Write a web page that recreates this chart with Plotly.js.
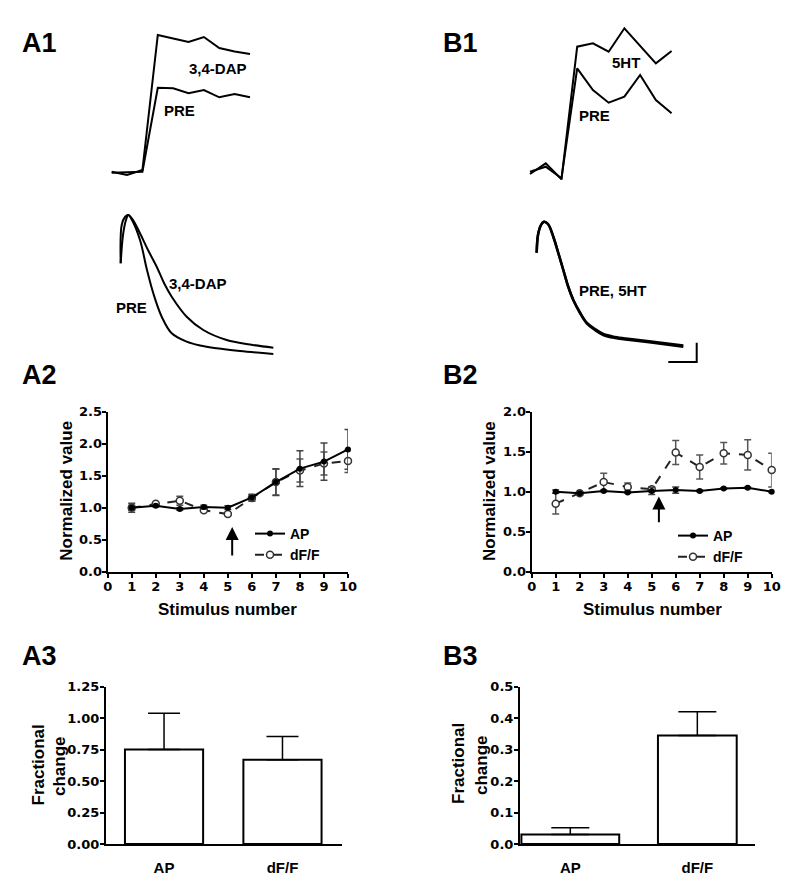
<!DOCTYPE html>
<html><head><meta charset="utf-8">
<script src="https://cdn.plot.ly/plotly-3.0.1.min.js"></script>
<style>html,body{margin:0;padding:0;background:#fff}#chart{width:789px;height:881px}</style>
</head><body><div id="chart"></div>
<script>
// ---------- A1 top: fluorescence transients (frame index, normalized dF) ----------
const frames = [0,1,2,3,4,5,6,7,8,9];
const a1TopDAP = [0.003,-0.03,0.02,1.37,1.335,1.30,1.35,1.24,1.205,1.18];
const a1TopPRE = [-0.007,-0.005,0.003,0.843,0.837,0.787,0.82,0.747,0.78,0.747];
// ---------- B1 top ----------
const b1Top5HT = [-0.02,0.087,-0.073,1.253,1.287,1.203,1.437,1.26,1.087,1.21];
const b1TopPRE = [0.003,0.053,-0.063,1.037,0.82,0.693,0.753,0.97,0.72,0.587];
// ---------- A1 bottom: action potentials ----------
const a1BotPREt = [0.07,0.3,0.6,0.83,1.2,2.0,2.7,3.33,4.17,5.17,6.67,8.0,9.67,12.0,15.33];
const a1BotPRE  = [0.917,1.20,1.35,1.40,1.35,1.15,0.85,0.617,0.383,0.217,0.133,0.095,0.067,0.04,0.01];
const a1BotDAPt = [0.07,0.17,0.5,0.83,1.3,2.0,2.8,3.67,4.4,5.17,6.67,8.33,10.67,13.0,15.33];
const a1BotDAP  = [0.917,1.30,1.38,1.40,1.35,1.217,1.05,0.883,0.72,0.583,0.383,0.25,0.15,0.105,0.073];
// ---------- B1 bottom ----------
const b1BotT   = [0.07,0.2,0.5,0.8,1.2,1.73,2.2,2.73,3.2,3.73,4.4,5.07,5.9,6.73,7.9,9.4,11.9,14.73];
const b1BotPRE = [1.023,1.2,1.3,1.333,1.31,1.183,1.03,0.85,0.69,0.55,0.42,0.317,0.25,0.2,0.17,0.15,0.12,0.083];
const b1Bot5HT = [1.023,1.2,1.3,1.333,1.31,1.183,1.03,0.85,0.69,0.55,0.425,0.325,0.26,0.21,0.18,0.16,0.13,0.095];
const scaleBarT   = [13.23,16.07,16.07];
const scaleBarAmp = [-0.07,-0.07,0.123];
// ---------- A2 / B2 ----------
const stim = [1,2,3,4,5,6,7,8,9,10];
const stimTicks = [0,1,2,3,4,5,6,7,8,9,10];
const apA     = [1.00,1.03,0.98,1.01,1.00,1.16,1.40,1.61,1.72,1.91];
const apAErr  = [0.07,0.02,0.02,0.03,0.03,0.05,0.21,0.28,0.29,0.31];
const dffA    = [1.00,1.06,1.11,0.96,0.90,1.15,1.40,1.58,1.69,1.73];
const dffAErr = [0.04,0.02,0.07,0.02,0.02,0.05,0.20,0.18,0.18,0.18];
const apB     = [1.00,0.98,1.01,0.99,1.01,1.02,1.01,1.04,1.05,1.00];
const apBErr  = [0.02,0.02,0.01,0.01,0.045,0.04,0.01,0.01,0.01,0.01];
const dffB    = [0.85,0.98,1.12,1.06,1.03,1.49,1.31,1.48,1.46,1.27];
const dffBErr = [0.13,0.02,0.11,0.05,0.03,0.15,0.15,0.135,0.19,0.21];
// ---------- A3 / B3 ----------
const barCats = ['AP','dF/F'];
const fracA    = [0.75,0.67];
const fracAErr = [0.29,0.185];
const fracB    = [0.03,0.345];
const fracBErr = [0.022,0.075];

const W = 789, H = 881;
const FX = x => x / W, FY = y => 1 - y / H;
const NUM = 'DejaVu Sans';
const TXT = 'Liberation Sans';
const fnt = (s, fam) => ({family: fam || TXT, size: s, weight: 'bold', color: '#000'});

const lineTr = (x, y, xa, ya, w, shape) => ({
  type: 'scatter', mode: 'lines', x: x, y: y, xaxis: xa, yaxis: ya,
  line: {color: '#000', width: w, shape: shape || 'linear', smoothing: 1},
  showlegend: false, hoverinfo: 'skip'
});

const apStyle = (x, y, e, xa, ya, lg) => ({
  type: 'scatter', mode: 'lines+markers', name: 'AP', x: x, y: y, xaxis: xa, yaxis: ya,
  legend: lg, cliponaxis: false, legendrank: 1,
  line: {color: '#000', width: 2},
  marker: {symbol: 'circle', size: 6, color: '#000'},
  error_y: {type: 'data', array: e, visible: true, color: '#444', thickness: 1.5, width: 3.5}
});
const dffStyle = (x, y, e, xa, ya, lg) => ({
  type: 'scatter', mode: 'lines+markers', name: 'dF/F', x: x, y: y, xaxis: xa, yaxis: ya,
  legend: lg, cliponaxis: false, legendrank: 2,
  line: {color: '#222', width: 2, dash: 'dash'},
  marker: {symbol: 'circle', size: 7, color: '#fff', line: {color: '#333', width: 1.5}},
  error_y: {type: 'data', array: e, visible: true, color: '#555', thickness: 1.5, width: 3.5}
});
const barTr = (y, e, xa, ya, widths, capw) => ({
  type: 'bar', x: barCats, y: y, xaxis: xa, yaxis: ya, width: widths,
  marker: {color: '#fff', line: {color: '#000', width: 2}},
  error_y: {type: 'data', symmetric: false, array: e, arrayminus: [0, 0], visible: true,
            color: '#000', thickness: 1.5, width: capw},
  showlegend: false, hoverinfo: 'skip', cliponaxis: false
});

const data = [
  lineTr(frames, a1TopPRE, 'x5', 'y5', 2),
  lineTr(frames, a1TopDAP, 'x5', 'y5', 2),
  lineTr(a1BotPREt, a1BotPRE, 'x6', 'y6', 2, 'spline'),
  lineTr(a1BotDAPt, a1BotDAP, 'x6', 'y6', 2, 'spline'),
  lineTr(frames, b1TopPRE, 'x7', 'y7', 2),
  lineTr(frames, b1Top5HT, 'x7', 'y7', 2),
  lineTr(b1BotT, b1BotPRE, 'x8', 'y8', 2.5, 'spline'),
  lineTr(b1BotT, b1Bot5HT, 'x8', 'y8', 2.5, 'spline'),
  lineTr(scaleBarT, scaleBarAmp, 'x8', 'y8', 2),
  dffStyle(stim, dffA, dffAErr, 'x', 'y', 'legend'),
  apStyle(stim, apA, apAErr, 'x', 'y', 'legend'),
  dffStyle(stim, dffB, dffBErr, 'x2', 'y2', 'legend2'),
  apStyle(stim, apB, apBErr, 'x2', 'y2', 'legend2'),
  barTr(fracA, fracAErr, 'x3', 'y3', [0.66, 0.66], 16),
  barTr(fracB, fracBErr, 'x4', 'y4', [0.77, 0.62], 19)
];

const axBase = {
  showgrid: false, zeroline: false, showline: true, linecolor: '#000', linewidth: 2,
  ticks: 'outside', ticklen: 4, tickwidth: 2, tickcolor: '#000',
  tickfont: fnt(13, NUM), fixedrange: true
};
const hidden = (dom, rng, anchor) => ({domain: dom, range: rng, visible: false, anchor: anchor, fixedrange: true});
const yDom2 = [FY(571.7), FY(411.7)];
const yDom3 = [FY(844), FY(686.7)];

const layout = {
  width: W, height: H, margin: {l: 0, r: 0, t: 0, b: 0},
  paper_bgcolor: '#fff', plot_bgcolor: 'rgba(0,0,0,0)',
  font: {family: TXT, color: '#000'},
  xaxis: Object.assign({}, axBase, {domain: [FX(107.7), FX(348)], range: [0, 10], tickvals: stimTicks, ticklabelstandoff: -2, anchor: 'y'}),
  yaxis: Object.assign({}, axBase, {domain: yDom2, range: [0, 2.5], dtick: 0.5, tickformat: '.1f', ticklabelstandoff: -3, anchor: 'x'}),
  xaxis2: Object.assign({}, axBase, {domain: [FX(531.7), FX(771.7)], range: [0, 10], tickvals: stimTicks, ticklabelstandoff: -2, anchor: 'y2'}),
  yaxis2: Object.assign({}, axBase, {domain: yDom2, range: [0, 2.0], dtick: 0.5, tickformat: '.1f', ticklabelstandoff: -3, anchor: 'x2'}),
  xaxis3: Object.assign({}, axBase, {domain: [FX(106), FX(341.7)], type: 'category', range: [-0.49, 1.5], ticks: '', ticklabelstandoff: 9, tickfont: fnt(15), anchor: 'y3'}),
  yaxis3: Object.assign({}, axBase, {domain: yDom3, range: [0, 1.25], dtick: 0.25, tickformat: '.2f', ticklabelstandoff: -2, anchor: 'x3'}),
  xaxis4: Object.assign({}, axBase, {domain: [FX(520), FX(755)], type: 'category', range: [-0.396, 1.454], ticks: '', ticklabelstandoff: 9, tickfont: fnt(15), anchor: 'y4'}),
  yaxis4: Object.assign({}, axBase, {domain: yDom3, range: [0, 0.5], dtick: 0.1, tickformat: '.1f', ticklabelstandoff: -2, anchor: 'x4'}),
  xaxis5: hidden([FX(100), FX(260)], [-0.76, 9.65], 'y5'),
  yaxis5: hidden([FY(190), FY(20)], [-0.18, 1.52], 'x5'),
  xaxis6: hidden([FX(100), FX(290)], [-2, 17], 'y6'),
  yaxis6: hidden([FY(365), FY(195)], [-0.1, 1.6], 'x6'),
  xaxis7: hidden([FX(520), FX(690)], [-0.635, 10.17], 'y7'),
  yaxis7: hidden([FY(190), FY(20)], [-0.18, 1.52], 'x7'),
  xaxis8: hidden([FX(520), FX(710)], [-1.6, 17.4], 'y8'),
  yaxis8: hidden([FY(365), FY(195)], [-0.1, 1.6], 'x8'),
  legend: {x: FX(250), y: FY(518), xanchor: 'left', yanchor: 'top', bgcolor: 'rgba(0,0,0,0)',
           font: fnt(14), itemwidth: 30, tracegroupgap: 0, traceorder: 'normal'},
  legend2: {x: FX(673), y: FY(520), xanchor: 'left', yanchor: 'top', bgcolor: 'rgba(0,0,0,0)',
           font: fnt(14), itemwidth: 30, tracegroupgap: 0, traceorder: 'normal'},
  annotations: [],
  showlegend: true
};

const ann = layout.annotations;
const panel = (t, x, y) => ann.push({text: t, xref: 'paper', yref: 'paper', x: FX(x), y: FY(y),
  xanchor: 'left', yanchor: 'middle', showarrow: false, font: fnt(27)});
panel('A1', 20, 43); panel('B1', 441, 43);
panel('A2', 20, 375); panel('B2', 441, 375);
panel('A3', 20, 656); panel('B3', 441, 656);

const dlab = (t, x, y, xr, yr) => ann.push({text: t, xref: xr, yref: yr, x: x, y: y,
  xanchor: 'center', yanchor: 'middle', showarrow: false, font: fnt(15)});
dlab('3,4-DAP', 6.94, 1.037, 'x5', 'y5');
dlab('PRE', 4.44, 0.613, 'x5', 'y5');
dlab('3,4-DAP', 7.77, 0.717, 'x6', 'y6');
dlab('PRE', 1.17, 0.477, 'x6', 'y6');
dlab('5HT', 6.1, 1.093, 'x7', 'y7');
dlab('PRE', 4.07, 0.57, 'x7', 'y7');
dlab('PRE, 5HT', 7.67, 0.643, 'x8', 'y8');

const ptitle = (t, x, y, ang) => ann.push({text: t, xref: 'paper', yref: 'paper', x: FX(x), y: FY(y),
  xanchor: 'center', yanchor: 'middle', showarrow: false, textangle: ang, font: fnt(17)});
ptitle('Normalized value', 66.7, 491, -90);
ptitle('Normalized value', 490, 491, -90);
ptitle('Stimulus number', 228, 609, 0);
ptitle('Stimulus number', 652, 609, 0);
ptitle('Fractional', 37.5, 765, -90);
ptitle('change', 59, 766, -90);
ptitle('Fractional', 458, 764, -90);
ptitle('change', 481, 765, -90);

const arrow = (x, yHead, yTail, xr, yr) => ann.push({text: '', xref: xr, yref: yr, x: x, y: yHead,
  axref: xr, ayref: yr, ax: x, ay: yTail, showarrow: true, arrowhead: 2, arrowsize: 1.3,
  arrowwidth: 2, arrowcolor: '#000', standoff: 0});
arrow(5.18, 0.70, 0.23, 'x', 'y');
arrow(5.3, 0.94, 0.60, 'x2', 'y2');

Plotly.newPlot('chart', data, layout, {staticPlot: true, displayModeBar: false});
</script></body></html>
